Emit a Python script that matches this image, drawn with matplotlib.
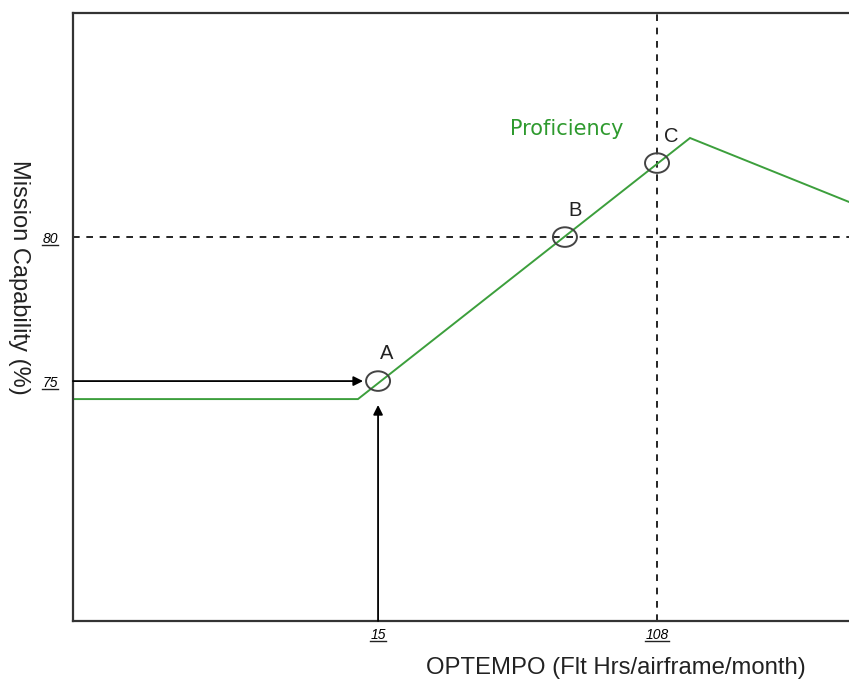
import matplotlib.pyplot as plt
from matplotlib.patches import Ellipse

plt.rcParams['font.family'] = ['Liberation Sans', 'DejaVu Sans']

# proficiency curve (OPTEMPO vs mission capability)
curve_x = [-86.7, 8.3, 119.0, 172.0]
curve_y = [74.375, 74.375, 83.44, 81.22]

# marked points A, B, C
pt_names = ['A', 'B', 'C']
pt_x = [15.0, 77.3, 108.0]
pt_y = [75.0, 80.0, 82.57]
lbl_x = [17.9, 80.7, 112.9]
lbl_y = [75.97, 80.94, 83.48]

# reference lines / ticks
ref_y = 80
ref_x = 108
xtick_vals = [15, 108]
xtick_text = ['15', '108']
ytick_vals = [75, 80]
ytick_text = ['75', '80']

xlim = (-86.7, 172.0)
ylim = (66.67, 87.78)

fig = plt.figure(figsize=(8.49, 6.88), dpi=100)
ax = fig.add_axes([73 / 849, 67 / 688, 776 / 849, 608 / 688])
ax.set_xlim(*xlim)
ax.set_ylim(*ylim)

for s in ['left', 'top', 'bottom']:
    ax.spines[s].set_color('#333333')
    ax.spines[s].set_linewidth(1.6)
ax.spines['right'].set_visible(False)

# dashed guide lines
ax.axhline(ref_y, color='black', ls=(0, (4, 4)), lw=1.2)
ax.axvline(ref_x, color='black', ls=(0, (4, 4)), lw=1.2)

ax.plot(curve_x, curve_y, color='#3c9f3c', lw=1.4, solid_joinstyle='miter')

# circles around the points
for x, y in zip(pt_x, pt_y):
    ax.add_patch(Ellipse((x, y), width=8.0, height=0.68, fill=False,
                         edgecolor='#444444', lw=1.4, zorder=4))

for name, x, y in zip(pt_names, lbl_x, lbl_y):
    ax.text(x, y, name, ha='center', va='center', fontsize=14.5,
            color='#222222')

ax.text(77.9, 83.76, 'Proficiency', color='#2e9a2e', fontsize=15,
        family='DejaVu Sans', ha='center', va='center')

# arrows into point A
ax.annotate('', xy=(pt_x[0] - 5.0, ytick_vals[0]), xytext=(xlim[0], ytick_vals[0]),
            arrowprops=dict(arrowstyle='-|>', color='black', lw=1.3,
                            mutation_scale=14, shrinkA=0, shrinkB=0))
ax.annotate('', xy=(xtick_vals[0], pt_y[0] - 0.83), xytext=(xtick_vals[0], ylim[0]),
            arrowprops=dict(arrowstyle='-|>', color='black', lw=1.3,
                            mutation_scale=14, shrinkA=0, shrinkB=0))

# italic tick labels (underlined below)
ax.set_xticks(xtick_vals)
ax.set_xticklabels(xtick_text, fontsize=10, style='italic')
ax.set_yticks(ytick_vals)
ax.set_yticklabels(ytick_text, fontsize=10, style='italic')
ax.tick_params(length=0)
ax.tick_params(axis='x', pad=5)
ax.tick_params(axis='y', pad=11)

ax.set_xlabel('OPTEMPO (Flt Hrs/airframe/month)', fontsize=17.2, color='#222222',
              va='center')
ax.xaxis.set_label_coords(0.699, -0.077)
ax.set_ylabel('Mission Capability (%)', fontsize=17, rotation=270, color='#222222',
              va='center')
ax.yaxis.set_label_coords(-0.069, 0.565)

fig.canvas.draw()
r = fig.canvas.get_renderer()
for lab in ax.get_xticklabels() + ax.get_yticklabels():
    bb = lab.get_window_extent(r)
    y0 = (bb.y0 + 1) / fig.dpi
    line = plt.Line2D([bb.x0 / fig.dpi, bb.x1 / fig.dpi], [y0, y0], color='#222222',
                      lw=1.0, transform=fig.dpi_scale_trans)
    fig.add_artist(line)

fig.savefig('out.png', dpi=100)
